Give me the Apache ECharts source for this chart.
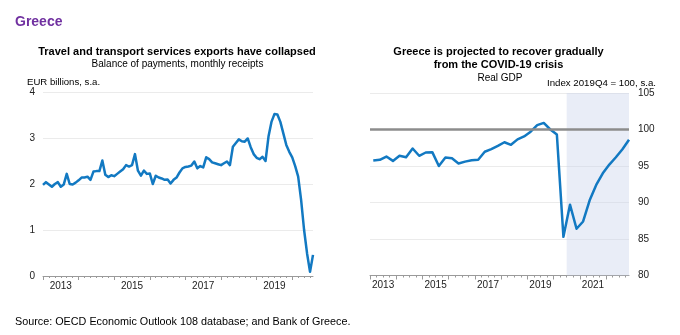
<!DOCTYPE html>
<html>
<head>
<meta charset="utf-8">
<title>Greece</title>
<script src="https://cdn.jsdelivr.net/npm/echarts@6/dist/echarts.min.js"></script>
<style>
  html, body { margin: 0; padding: 0; background: #ffffff; }
  #chart { width: 680px; height: 335px; }
</style>
</head>
<body>
<div id="chart"></div>
<script>
// Travel and transport services exports, EUR billions (s.a.), monthly from Jan 2013
const exportStartYear = 2013;
const exportValues = [
  1.98, 2.04, 1.99, 1.94, 2.00, 2.04, 1.94, 1.99, 2.22, 2.00, 1.99, 2.03,
  2.08, 2.14, 2.14, 2.16, 2.09, 2.27, 2.28, 2.28, 2.51, 2.20, 2.15, 2.19,
  2.17, 2.22, 2.27, 2.32, 2.41, 2.38, 2.41, 2.65, 2.29, 2.18, 2.29, 2.22,
  2.23, 2.00, 2.18, 2.14, 2.12, 2.09, 2.10, 2.01, 2.09, 2.14, 2.25, 2.34,
  2.37, 2.38, 2.40, 2.49, 2.34, 2.39, 2.36, 2.58, 2.54, 2.47, 2.45, 2.43,
  2.41, 2.45, 2.49, 2.41, 2.81, 2.89, 2.97, 2.93, 2.92, 2.99, 2.80, 2.65,
  2.57, 2.54, 2.59, 2.50, 3.03, 3.35, 3.52, 3.51, 3.35, 3.10, 2.85, 2.70,
  2.58, 2.39, 2.16, 1.65, 1.00, 0.49, 0.09, 0.46
];

// Real GDP, index 2019Q4 = 100 (s.a.), quarterly 2013Q1 to 2022Q4
const gdpStartYear = 2013;
const gdpValues = [
  95.75, 95.85, 96.30, 95.70, 96.40, 96.20, 97.40, 96.40, 96.85, 96.90,
  95.00, 96.15, 96.05, 95.35, 95.60, 95.80, 95.85, 96.95, 97.30, 97.75,
  98.25, 97.90, 98.65, 99.05, 99.70, 100.60, 100.90, 100.00, 99.30, 85.30,
  89.70, 86.40, 87.40, 90.30, 92.40, 94.00, 95.20, 96.20, 97.30, 98.60
];
const projectionStart = 2020.5;   // projections from 2020Q3
const referenceLevel = 100;

// Axis ticks and labels
const leftYearTicks = [2013, 2014, 2015, 2016, 2017, 2018, 2019, 2020];
const leftYearLabels = [2013, 2015, 2017, 2019];
const rightYearTicks = [2013, 2014, 2015, 2016, 2017, 2018, 2019, 2020, 2021, 2022];
const rightYearLabels = [2013, 2015, 2017, 2019, 2021];
const leftValueTicks = [0, 1, 2, 3, 4];
const rightValueTicks = [80, 85, 90, 95, 100, 105];

// Build the [time, value] pairs
const exportData = exportValues.map((v, i) => [exportStartYear + i / 12, v]);
const gdpData = gdpValues.map((v, i) => [gdpStartYear + i / 4 + 0.125, v]);
const exportEnd = exportData[exportData.length - 1][0];
const gdpEnd = gdpData[gdpData.length - 1][0];
const bimonthTicks = [];
for (let t = exportStartYear; t <= exportEnd + 1e-9; t += 1 / 6) bimonthTicks.push(t);
const quarterTicks = [];
for (let k = 0; k < gdpValues.length; k++) quarterTicks.push(gdpStartYear + k / 4);

const FONT = '"Liberation Sans", Arial, sans-serif';
const BLUE = '#1279c2';
const AXIS = '#9a9a9a';
const GRIDLINE = '#ebebeb';
const LABEL = { fontFamily: FONT, fontSize: 10, color: '#222222' };

function midYearLabel(v) {
  return String(Math.floor(v));
}

function text(x, y, str, font, align, color) {
  return {
    type: 'text', x: x, y: y, silent: true,
    style: {
      text: str, font: font, fill: color || '#000000',
      textAlign: align || 'left', textVerticalAlign: 'middle'
    }
  };
}

const chart = echarts.init(document.getElementById('chart'), null, { renderer: 'canvas' });

chart.setOption({
  animation: false,
  backgroundColor: '#ffffff',
  graphic: [
    text(15, 22, 'Greece', 'bold 14px ' + FONT, 'left', '#7030a0'),
    text(177, 52, 'Travel and transport services exports have collapsed', 'bold 11px ' + FONT, 'center'),
    text(177.5, 64.5, 'Balance of payments, monthly receipts', '10px ' + FONT, 'center'),
    text(27, 82, 'EUR billions, s.a.', '9.6px ' + FONT, 'left'),
    text(498.5, 52, 'Greece is projected to recover gradually', 'bold 11px ' + FONT, 'center'),
    text(498.5, 64.5, 'from the COVID-19 crisis', 'bold 11px ' + FONT, 'center'),
    text(500, 78.5, 'Real GDP', '10px ' + FONT, 'center'),
    text(656, 83, 'Index 2019Q4 = 100, s.a.', '9.7px ' + FONT, 'right'),
    text(15, 322, 'Source: OECD Economic Outlook 108 database; and Bank of Greece.', '10.8px ' + FONT, 'left')
  ],
  grid: [
    { left: 43, top: 92, width: 270, height: 184 },
    { left: 370, top: 93, width: 259, height: 182.5 }
  ],
  xAxis: [
    {
      type: 'value', gridIndex: 0, position: 'bottom', min: exportStartYear, max: exportEnd,
      axisLine: { show: true, lineStyle: { color: AXIS, width: 1 } },
      axisTick: { show: true, customValues: leftYearTicks, length: 4, lineStyle: { color: AXIS } },
      axisLabel: Object.assign({ customValues: leftYearLabels.map(y => y + 0.5), formatter: midYearLabel, margin: 5 }, LABEL),
      splitLine: { show: false }
    },
    {
      type: 'value', gridIndex: 0, position: 'bottom', offset: 0, min: exportStartYear, max: exportEnd,
      axisLine: { show: false },
      axisTick: { show: true, customValues: bimonthTicks, length: 2, lineStyle: { color: AXIS } },
      axisLabel: { show: false },
      splitLine: { show: false }
    },
    {
      type: 'value', gridIndex: 1, position: 'bottom', min: gdpStartYear, max: gdpEnd,
      axisLine: { show: true, lineStyle: { color: AXIS, width: 1 } },
      axisTick: { show: true, customValues: rightYearTicks, length: 4, lineStyle: { color: AXIS } },
      axisLabel: Object.assign({ customValues: rightYearLabels.map(y => y + 0.5), formatter: midYearLabel, margin: 5 }, LABEL),
      splitLine: { show: false }
    },
    {
      type: 'value', gridIndex: 1, position: 'bottom', offset: 0, min: gdpStartYear, max: gdpEnd,
      axisLine: { show: false },
      axisTick: { show: true, customValues: quarterTicks, length: 2, lineStyle: { color: AXIS } },
      axisLabel: { show: false },
      splitLine: { show: false }
    }
  ],
  yAxis: [
    {
      type: 'value', gridIndex: 0, min: leftValueTicks[0], max: leftValueTicks[leftValueTicks.length - 1], interval: 1,
      axisLine: { show: false }, axisTick: { show: false },
      axisLabel: Object.assign({ margin: 8 }, LABEL),
      splitLine: { show: true, lineStyle: { color: GRIDLINE, width: 1.2 } }
    },
    {
      type: 'value', gridIndex: 1, position: 'right', min: rightValueTicks[0], max: rightValueTicks[rightValueTicks.length - 1], interval: 5,
      axisLine: { show: false }, axisTick: { show: false },
      axisLabel: Object.assign({ margin: 9 }, LABEL),
      splitLine: { show: true, lineStyle: { color: GRIDLINE, width: 1.2 } }
    }
  ],
  series: [
    {
      name: 'Travel and transport exports', type: 'line', xAxisIndex: 0, yAxisIndex: 0,
      data: exportData, symbol: 'none', smooth: false, z: 3,
      lineStyle: { color: BLUE, width: 2.5, join: 'round' }
    },
    {
      name: 'Projection and reference', type: 'line', xAxisIndex: 2, yAxisIndex: 1,
      data: gdpData, symbol: 'none', z: 1, silent: true,
      lineStyle: { opacity: 0 },
      markArea: {
        silent: true,
        itemStyle: { color: 'rgba(200, 210, 236, 0.4)' },
        data: [[{ xAxis: projectionStart }, { xAxis: gdpEnd }]]
      },
      markLine: {
        silent: true, symbol: ['none', 'none'], label: { show: false },
        lineStyle: { color: '#8c8c8c', width: 2.5, type: 'solid' },
        data: [{ yAxis: referenceLevel }]
      }
    },
    {
      name: 'Real GDP', type: 'line', xAxisIndex: 2, yAxisIndex: 1,
      data: gdpData, symbol: 'none', smooth: false, z: 3,
      lineStyle: { color: BLUE, width: 2.5, join: 'round' }
    }
  ]
});
</script>
</body>
</html>
